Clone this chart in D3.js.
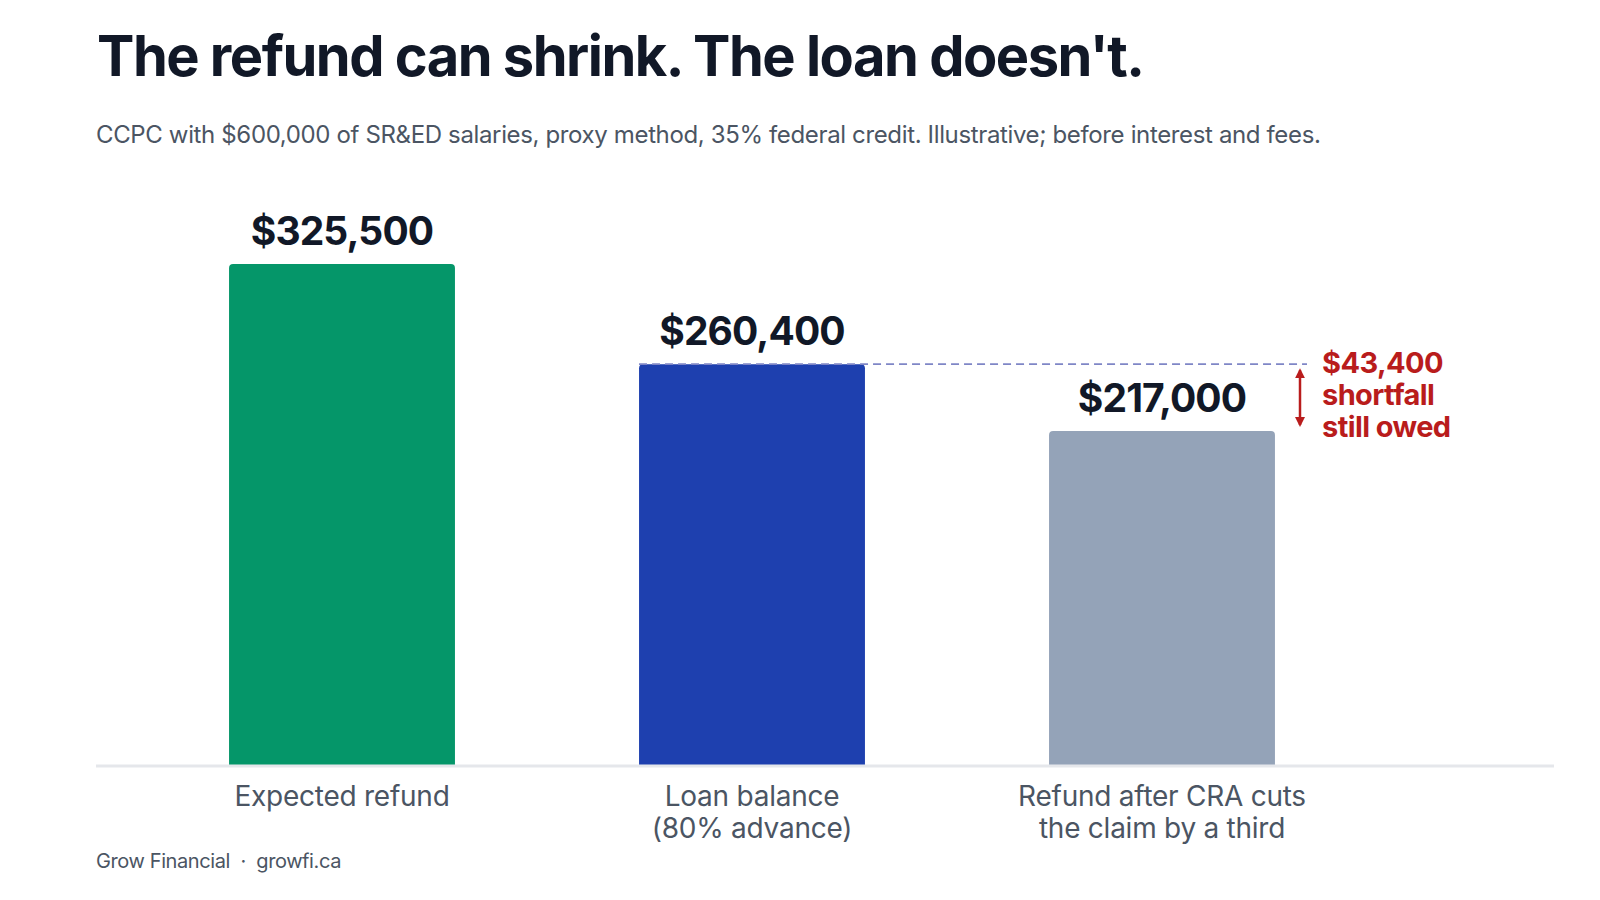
<!DOCTYPE html>
<html>
<head>
<meta charset="utf-8">
<script src="https://cdn.jsdelivr.net/npm/d3@7"></script>
<style>
  body { margin: 0; background: #fff; }
  svg { display: block; font-family: Inter, "Noto Sans", sans-serif; }
</style>
</head>
<body>
<svg id="chart"></svg>
<script>
// chart data
const categories = ["Expected refund", "Loan balance", "Refund after CRA cuts"]
const categoryLines = [
    ["Expected refund"],
    ["Loan balance", "(80% advance)"],
    ["Refund after CRA cuts", "the claim by a third"]
]
const values = [325500, 260400, 217000]
const barColors = ["#059669", "#1e40af", "#94a3b8"]
const shortfallLines = ["$43,400", "shortfall", "still owed"]

const W = 1600
const H = 900
const baseY = 765

let svg = d3.select("#chart")
    .attr("width", W)
    .attr("height", H)

let x = d3.scaleBand()
    .domain(categories)
    .range([137, 1367])
    .paddingInner(0.449)
    .paddingOuter(0.2245)

let y = d3.scaleLinear()
    .domain([0, 325500])
    .range([baseY, 264])

let fmt = d3.format("$,")

// title + subtitle
svg.append("text")
    .attr("x", 97)
    .attr("y", 76)
    .attr("font-size", 56)
    .attr("font-weight", 700)
    .attr("letter-spacing", -1.5)
    .attr("fill", "#111827")
    .text("The refund can shrink. The loan doesn't.")

svg.append("text")
    .attr("x", 96)
    .attr("y", 143)
    .attr("font-size", 24)
    .attr("fill", "#4b5563")
    .attr("letter-spacing", -0.36)
    .text("CCPC with $600,000 of SR&ED salaries, proxy method, 35% federal credit. Illustrative; before interest and fees.")

// bars with rounded tops
function barPath(x0, w, yTop, yBot, r) {
    return `M${x0},${yBot}V${yTop + r}Q${x0},${yTop} ${x0 + r},${yTop}H${x0 + w - r}Q${x0 + w},${yTop} ${x0 + w},${yTop + r}V${yBot}Z`
}

svg.append("g")
    .selectAll("path")
    .data(values)
    .join("path")
    .attr("d", (d, i) => barPath(x(categories[i]), x.bandwidth(), y(d), baseY, 4))
    .attr("fill", (d, i) => barColors[i])

// dashed loan line across
svg.append("line")
    .attr("x1", x(categories[1]))
    .attr("x2", 1307)
    .attr("y1", y(values[1]))
    .attr("y2", y(values[1]))
    .attr("stroke", "#7f86c6")
    .attr("stroke-width", 1.8)
    .attr("stroke-dasharray", "8,5")

// value labels
svg.append("g")
    .selectAll("text")
    .data(values)
    .join("text")
    .attr("x", (d, i) => x(categories[i]) + x.bandwidth() / 2)
    .attr("y", d => y(d) - 19)
    .attr("text-anchor", "middle")
    .attr("font-size", 39)
    .attr("font-weight", 700)
    .attr("letter-spacing", -0.9)
    .attr("fill", "#111827")
    .text(d => fmt(d))

// baseline
svg.append("line")
    .attr("x1", 96)
    .attr("x2", 1554)
    .attr("y1", baseY + 1)
    .attr("y2", baseY + 1)
    .attr("stroke", "#e5e7eb")
    .attr("stroke-width", 3)

// category labels
let labels = svg.append("g")
    .selectAll("text")
    .data(categoryLines)
    .join("text")
    .attr("text-anchor", "middle")
    .attr("font-size", 28)
    .attr("fill", "#4b5563")
    .attr("letter-spacing", -0.25)
labels.selectAll("tspan")
    .data((d, i) => d.map(t => ({ t, i })))
    .join("tspan")
    .attr("x", d => x(categories[d.i]) + x.bandwidth() / 2)
    .attr("y", (d, j) => 806 + j * 32)
    .text(d => d.t)

// shortfall arrow
let defs = svg.append("defs")
defs.append("marker")
    .attr("id", "arrow")
    .attr("viewBox", "0 0 10 10")
    .attr("refX", 8)
    .attr("refY", 5)
    .attr("markerWidth", 4)
    .attr("markerHeight", 4)
    .attr("orient", "auto-start-reverse")
    .append("path")
    .attr("d", "M0,0L10,5L0,10Z")
    .attr("fill", "#b91c1c")

svg.append("line")
    .attr("x1", 1300)
    .attr("x2", 1300)
    .attr("y1", y(values[1]) + 6)
    .attr("y2", y(values[2]) - 6)
    .attr("stroke", "#b91c1c")
    .attr("stroke-width", 2.5)
    .attr("marker-start", "url(#arrow)")
    .attr("marker-end", "url(#arrow)")

svg.append("text")
    .attr("font-size", 29)
    .attr("font-weight", 700)
    .attr("fill", "#b91c1c")
    .attr("letter-spacing", -0.6)
    .selectAll("tspan")
    .data(shortfallLines)
    .join("tspan")
    .attr("x", 1322)
    .attr("y", (d, i) => 373 + i * 32)
    .text(d => d)

// footer
svg.append("text")
    .attr("x", 96)
    .attr("y", 868)
    .attr("font-size", 20)
    .attr("fill", "#4b5563")
    .attr("letter-spacing", -0.4)
    .attr("xml:space", "preserve")
    .text("Grow Financial  ·  growfi.ca")
</script>
</body>
</html>
